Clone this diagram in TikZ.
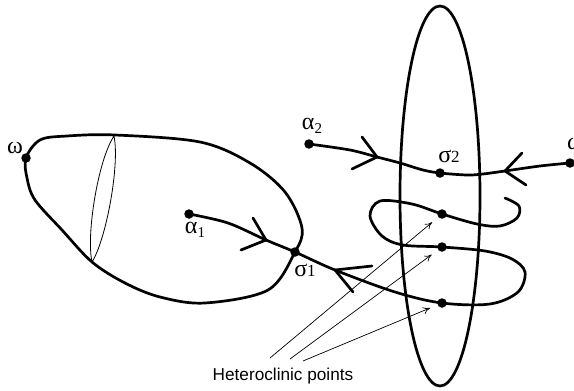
\documentclass[tikz,border=0pt]{standalone}
\usepackage{fontspec}
\setmainfont{Liberation Sans}
\newfontfamily\grk{Liberation Serif}
\usetikzlibrary{arrows.meta}
\begin{document}
\begin{tikzpicture}[x=1pt,y=-1pt,
 curve/.style={line width=2.7pt, line cap=round, line join=round},
 thinl/.style={line width=0.8pt},
 dot/.style={circle, fill=black, inner sep=0pt, minimum size=9.5pt},
 lbl/.style={inner sep=0pt, font=\grk\fontsize{24}{24}\selectfont},
 harrow/.style={line width=0.7pt, -{To[length=7pt,width=7pt]}, shorten >=8pt},
]
\useasboundingbox (0,0) rectangle (574,391);
% dots
\node[dot] (w1) at (26,158) {};
\node[dot] (s1) at (295,252) {};
\node[dot] (a1) at (189,214) {};
\node[dot] (a2) at (309,144) {};
\node[dot] (s2) at (440,173) {};
\node[dot] (w2) at (570,163) {};
\node[dot] (h1) at (442,214) {};
\node[dot] (h2) at (442,247) {};
\node[dot] (h3) at (442,303) {};
% left loop
\draw[curve] plot[smooth cycle, tension=0.55] coordinates {(w1.center) (40,140) (67,136) (115,135) (200,142) (250,163) (285,192) (302,228) (s1.center) (268,290) (205,303) (160,297) (125,283) (92,262) (62,230) (35,200) (27,178)};
% thin ellipse
\draw[thinl] (114,136) .. controls (98,160) and (86,235) .. (92,262) .. controls (106,240) and (120,165) .. (114,136);
% big vertical ellipse
\draw[curve] (440,196) ellipse [x radius=40pt, y radius=190pt];
% manifold from alpha1
\draw[curve] plot[smooth, tension=0.55] coordinates {(a1.center) (228,223) (266,240) (s1.center) (335,270) (395,292) (h3.center) (490,304) (518,292) (525,272) (512,259) (485,251) (h2.center) (403,245) (382,236) (370,216) (380,201) (412,204) (h1.center) (477,224) (500,226) (517,218) (519,206) (505,198)};
% alpha2 - sigma2 - omega
\draw[curve] plot[smooth, tension=0.55] coordinates {(a2.center) (350,150) (377,157) (400,163) (423,170) (s2.center) (467,175) (483,174) (505,171) (540,166) (w2.center)};
% chevrons
\draw[curve] (253,218) -- (266,240) -- (241,250);
\draw[curve] (372,266) -- (335,270) -- (353,292);
\draw[curve] (362,137) -- (377,157) -- (352,169);
\draw[curve] (522,153) -- (505,171) -- (526,185);
% labels
\node[lbl] (lw1) at (15,148) {ω};
\node[lbl] (la1) at (195,230) {α\raisebox{-4pt}{\fontsize{15}{15}\selectfont 1}};
\node[lbl] (ls1) at (305,270) {σ{\fontsize{17}{17}\selectfont 1}};
\node[lbl] (la2) at (312,126) {α\raisebox{-4pt}{\fontsize{15}{15}\selectfont 2}};
\node[lbl] (ls2) at (449,156) {σ{\fontsize{17}{17}\selectfont 2}};
\node[lbl] (lw2) at (575,144) {ω};
% heteroclinic
\node[inner sep=0pt, font=\fontsize{17.2}{18}\selectfont] (ht) at (283,376) {Heteroclinic points};
\coordinate (t1) at (270,358);
\coordinate (t2) at (290,359);
\coordinate (t3) at (303,361);
\draw[harrow] (t1) -- (h1);
\draw[harrow] (t2) -- (h2);
\draw[harrow] (t3) -- (h3);
\end{tikzpicture}
\end{document}
